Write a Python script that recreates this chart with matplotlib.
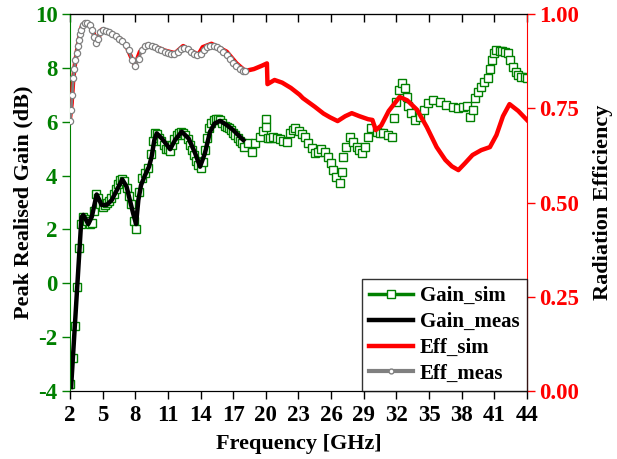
import matplotlib
matplotlib.use('Agg')
from matplotlib import pyplot as plt

plt.rcParams['font.family'] = 'Liberation Serif'
plt.rcParams['font.weight'] = 'bold'
plt.rcParams['axes.unicode_minus'] = False

GREEN = '#008000'
RED = '#ff0000'
GRAY = '#808080'

# Gain_sim (dB)
freq_gain_sim = [2.0, 2.25, 2.45, 2.6, 2.8, 3.0, 3.2, 3.4, 3.6, 3.8, 4.0, 4.2, 4.4, 4.6, 4.8,
                 5.0, 5.2, 5.4, 5.6, 5.8, 6.0, 6.2, 6.4, 6.6, 6.8, 7.0, 7.2, 7.4, 7.6, 7.9,
                 8.1, 8.3, 8.6, 8.9, 9.2, 9.4, 9.6, 9.8, 10.0, 10.2, 10.4, 10.6, 10.8, 11.0,
                 11.2, 11.4, 11.6, 11.8, 12.0, 12.2, 12.4, 12.6, 12.8, 13.0, 13.2, 13.4, 13.6,
                 13.8, 14.0, 14.2, 14.4, 14.6, 14.8, 15.0, 15.2, 15.4, 15.6, 15.8, 16.0, 16.2,
                 16.4, 16.6, 16.8, 17.0, 17.2, 17.4, 17.6, 17.8, 18.0, 18.4, 18.7, 19.0, 19.5,
                 19.7, 20.0, 20.0, 20.2, 20.4, 20.7, 21.0, 21.3, 21.6, 21.9, 22.2, 22.5, 22.7,
                 23.05, 23.3, 23.6, 23.9, 24.2, 24.5, 24.8, 25.1, 25.4, 25.7, 25.95, 26.2,
                 26.45, 26.8, 27.0, 27.1, 27.4, 27.7, 28.0, 28.35, 28.6, 28.8, 29.1, 29.4,
                 29.7, 30.2, 30.5, 30.8, 31.25, 31.6, 31.8, 32.0, 32.2, 32.5, 32.8, 32.95,
                 33.1, 33.3, 33.7, 34.2, 34.5, 34.9, 35.4, 36.0, 36.6, 37.2, 37.7, 38.15,
                 38.45, 38.8, 39.0, 39.2, 39.5, 39.8, 40.1, 40.4, 40.6, 40.8, 41.0, 41.2,
                 41.5, 41.75, 42.0, 42.3, 42.4, 42.75, 43.0, 43.2, 43.5, 43.8, 44.0]
gain_sim = [-3.75, -2.76, -1.6, -0.13, 1.3, 2.2, 2.45, 2.4, 2.3, 2.2, 2.25, 2.7, 3.3, 3.15, 2.95,
            2.85, 2.9, 3.0, 3.05, 3.15, 3.3, 3.5, 3.7, 3.82, 3.88, 3.8, 3.55, 3.25, 2.95, 2.3,
            2.0, 3.4, 3.9, 4.1, 4.3, 4.8, 5.3, 5.6, 5.55, 5.4, 5.3, 5.15, 5.0, 5.0,
            4.9, 5.15, 5.35, 5.5, 5.6, 5.62, 5.6, 5.5, 5.35, 5.15, 4.95, 4.75, 4.55,
            4.4, 4.3, 4.5, 4.95, 5.4, 5.75, 5.95, 6.05, 6.1, 6.1, 6.05, 5.95, 5.85,
            5.8, 5.75, 5.7, 5.6, 5.5, 5.4, 5.3, 5.2, 5.05, 5.2, 4.89, 5.2, 5.44,
            5.67, 6.1, 5.8, 5.38, 5.38, 5.42, 5.38, 5.35, 5.3, 5.26, 5.57, 5.7, 5.76,
            5.66, 5.55, 5.44, 5.2, 5.01, 4.83, 4.89, 4.98, 4.89, 4.7, 4.46, 4.2,
            3.96, 3.73, 4.14, 4.68, 5.07, 5.42, 5.26, 5.07, 4.95, 4.85, 5.07, 5.44,
            5.76, 5.63, 5.6, 5.57, 5.5, 5.44, 6.13, 6.74, 7.18, 7.43, 7.24, 6.93,
            6.58, 6.31, 6.06, 6.19, 6.44, 6.68, 6.81, 6.74, 6.62, 6.56, 6.5, 6.56,
            6.58, 6.19, 6.44, 6.87, 7.12, 7.3, 7.49, 7.61, 7.95, 8.29, 8.54, 8.66,
            8.64, 8.62, 8.6, 8.54, 8.29, 8.04, 7.86, 7.73, 7.67, 7.65, 7.63]

# Gain_meas (dB)
freq_gain_meas = [2.1, 3.05, 3.22, 3.68, 4.0, 4.45, 4.9, 5.37, 5.83, 6.3, 6.8, 7.2, 7.5, 7.8,
                  8.07, 8.28, 8.53, 8.9, 9.26, 9.5, 9.75, 9.97, 10.43, 10.9, 11.2, 11.65,
                  12.27, 12.9, 13.5, 13.95, 14.4, 14.87, 15.3, 15.8, 16.4, 17.0, 17.47, 17.93]
gain_meas = [-3.85, 2.45, 2.54, 2.2, 2.47, 3.3, 2.91, 2.91, 3.09, 3.46, 3.86, 3.59, 3.09, 2.6,
             2.2, 3.09, 3.65, 4.02, 4.33, 4.7, 5.32, 5.57, 5.38, 5.14, 4.98, 5.32,
             5.63, 5.38, 4.83, 4.33, 4.83, 5.63, 5.94, 6.03, 5.88, 5.69, 5.5, 5.32]

# Eff_sim
freq_eff_sim = [2.0, 2.15, 2.3, 2.46, 2.7, 2.92, 3.07, 3.38, 3.84, 4.15, 4.45, 4.9, 5.83, 6.75,
                7.2, 7.67, 7.97, 8.43, 9.05, 9.8, 10.7, 11.65, 12.4, 13.0, 13.8, 14.2, 15.0,
                16.4, 17.3, 18.1, 18.9, 19.65, 20.1, 20.15, 20.8, 21.5, 22.3, 23.1, 23.4,
                24.5, 25.3, 25.9, 26.6, 27.3, 27.9, 28.6, 29.4, 29.8, 30.1, 30.6, 31.3,
                32.3, 33.0, 33.9, 34.8, 35.7, 36.5, 37.1, 37.7, 38.3, 39.0, 39.8, 40.6,
                41.2, 41.8, 42.4, 43.2, 44.0]
eff_sim = [0.724, 0.764, 0.829, 0.869, 0.914, 0.949, 0.966, 0.977, 0.971, 0.95, 0.925, 0.958,
           0.949, 0.931, 0.914, 0.882, 0.864, 0.9, 0.918, 0.914, 0.903, 0.896, 0.915, 0.904,
           0.892, 0.912, 0.921, 0.9, 0.869, 0.849, 0.854, 0.863, 0.869, 0.814, 0.825, 0.818,
           0.804, 0.786, 0.777, 0.754, 0.736, 0.726, 0.716, 0.729, 0.737, 0.729, 0.721, 0.719,
           0.692, 0.704, 0.743, 0.78, 0.771, 0.746, 0.7, 0.647, 0.613, 0.596, 0.586, 0.604,
           0.626, 0.639, 0.647, 0.679, 0.729, 0.761, 0.743, 0.719]

# Eff_meas
freq_eff_meas = [2.0, 2.1, 2.2, 2.3, 2.4, 2.5, 2.6, 2.7, 2.8, 2.9, 3.0, 3.2, 3.4, 3.6, 3.8, 4.0,
                 4.2, 4.4, 4.6, 4.8, 5.0, 5.3, 5.6, 5.9, 6.2, 6.5, 6.8, 7.1, 7.4, 7.7, 8.0,
                 8.3, 8.6, 8.9, 9.2, 9.5, 9.8, 10.1, 10.4, 10.7, 11.0, 11.3, 11.6, 11.9, 12.2,
                 12.5, 12.8, 13.1, 13.4, 13.7, 14.0, 14.3, 14.6, 14.9, 15.2, 15.5, 15.8, 16.1,
                 16.4, 16.7, 17.0, 17.3, 17.6, 17.9, 18.1]
eff_meas = [0.715, 0.745, 0.785, 0.829, 0.855, 0.877, 0.897, 0.914, 0.932, 0.946, 0.958, 0.972,
            0.977, 0.976, 0.97, 0.958, 0.94, 0.922, 0.935, 0.952, 0.957, 0.955, 0.951, 0.947,
            0.941, 0.935, 0.928, 0.918, 0.905, 0.878, 0.862, 0.88, 0.905, 0.916, 0.918, 0.916,
            0.912, 0.908, 0.904, 0.9, 0.897, 0.895, 0.895, 0.9, 0.907, 0.91, 0.906, 0.899,
            0.893, 0.89, 0.895, 0.905, 0.912, 0.916, 0.915, 0.912, 0.906, 0.898, 0.89, 0.88,
            0.871, 0.862, 0.855, 0.85, 0.848]

x_ticks = [2, 5, 8, 11, 14, 17, 20, 23, 26, 29, 32, 35, 38, 41, 44]
gain_ticks = [-4, -2, 0, 2, 4, 6, 8, 10]
eff_ticks = [0.0, 0.25, 0.5, 0.75, 1.0]

fig = plt.figure(figsize=(6.17, 4.59), dpi=100)
ax = fig.add_axes([0.1135, 0.148, 0.7405, 0.8215])

l1, = ax.plot(freq_gain_sim, gain_sim, color=GREEN, lw=2.5, ls='none', marker='s', ms=5.5,
              mfc='white', mec=GREEN, mew=1.0, label='Gain_sim')
l2, = ax.plot(freq_gain_meas, gain_meas, color='black', lw=3.2, label='Gain_meas')
ax.set_xlim(2, 44)
ax.set_ylim(-4, 10)
ax.set_xticks(x_ticks)
ax.set_yticks(gain_ticks)
ax.tick_params(axis='x', direction='out', length=6, width=1, labelsize=16.5, pad=4)
ax.tick_params(axis='y', direction='out', length=6, width=1, colors=GREEN, labelsize=16.5,
               pad=3)
ax.spines['left'].set_color(GREEN)
ax.spines['right'].set_visible(False)
ax.set_xlabel('Frequency [GHz]', fontsize=16, fontweight='bold', labelpad=6)
ax.set_ylabel('Peak Realised Gain (dB)', fontsize=16, fontweight='bold', labelpad=1)

top = ax.secondary_xaxis('top')
top.set_xticks(x_ticks)
top.tick_params(direction='in', length=6, width=1, labeltop=False)

ax2 = ax.twinx()
l3, = ax2.plot(freq_eff_sim, eff_sim, color=RED, lw=3.2, label='Eff_sim')
l4, = ax2.plot(freq_eff_meas, eff_meas, color=GRAY, lw=2.0, marker='o', ms=4.5,
               mfc='white', mec=GRAY, mew=0.9, label='Eff_meas')
ax2.set_ylim(0, 1)
ax2.set_yticks(eff_ticks)
ax2.set_yticklabels(['0.00', '0.25', '0.50', '0.75', '1.00'])
ax2.tick_params(axis='y', direction='out', length=6, width=1, colors=RED, labelsize=16.5,
                pad=3)
ax2.spines['right'].set_color(RED)
ax2.spines['left'].set_visible(False)
ax2.set_ylabel('Radiation Efficiency', fontsize=16, fontweight='bold', labelpad=10)

# legend handles
h1, = ax.plot([], [], color=GREEN, lw=2.5, marker='s', ms=5.5, mfc='white', mec=GREEN)
h4, = ax.plot([], [], color=GRAY, lw=3, marker='o', ms=3.5, mfc='white', mec=GRAY)
leg = ax2.legend([h1, l2, l3, h4], ['Gain_sim', 'Gain_meas', 'Eff_sim', 'Eff_meas'],
                 loc='lower right', bbox_to_anchor=(1.0, 0.0), fontsize=15, frameon=True,
                 fancybox=False, edgecolor='black', handlelength=2.1, borderpad=0.35,
                 labelspacing=0.28, handletextpad=0.35, borderaxespad=0.0, markerscale=1.0)
leg.get_frame().set_linewidth(1.0)
for t in leg.get_texts():
    t.set_fontweight('bold')

fig.savefig('out.png', dpi=100)
